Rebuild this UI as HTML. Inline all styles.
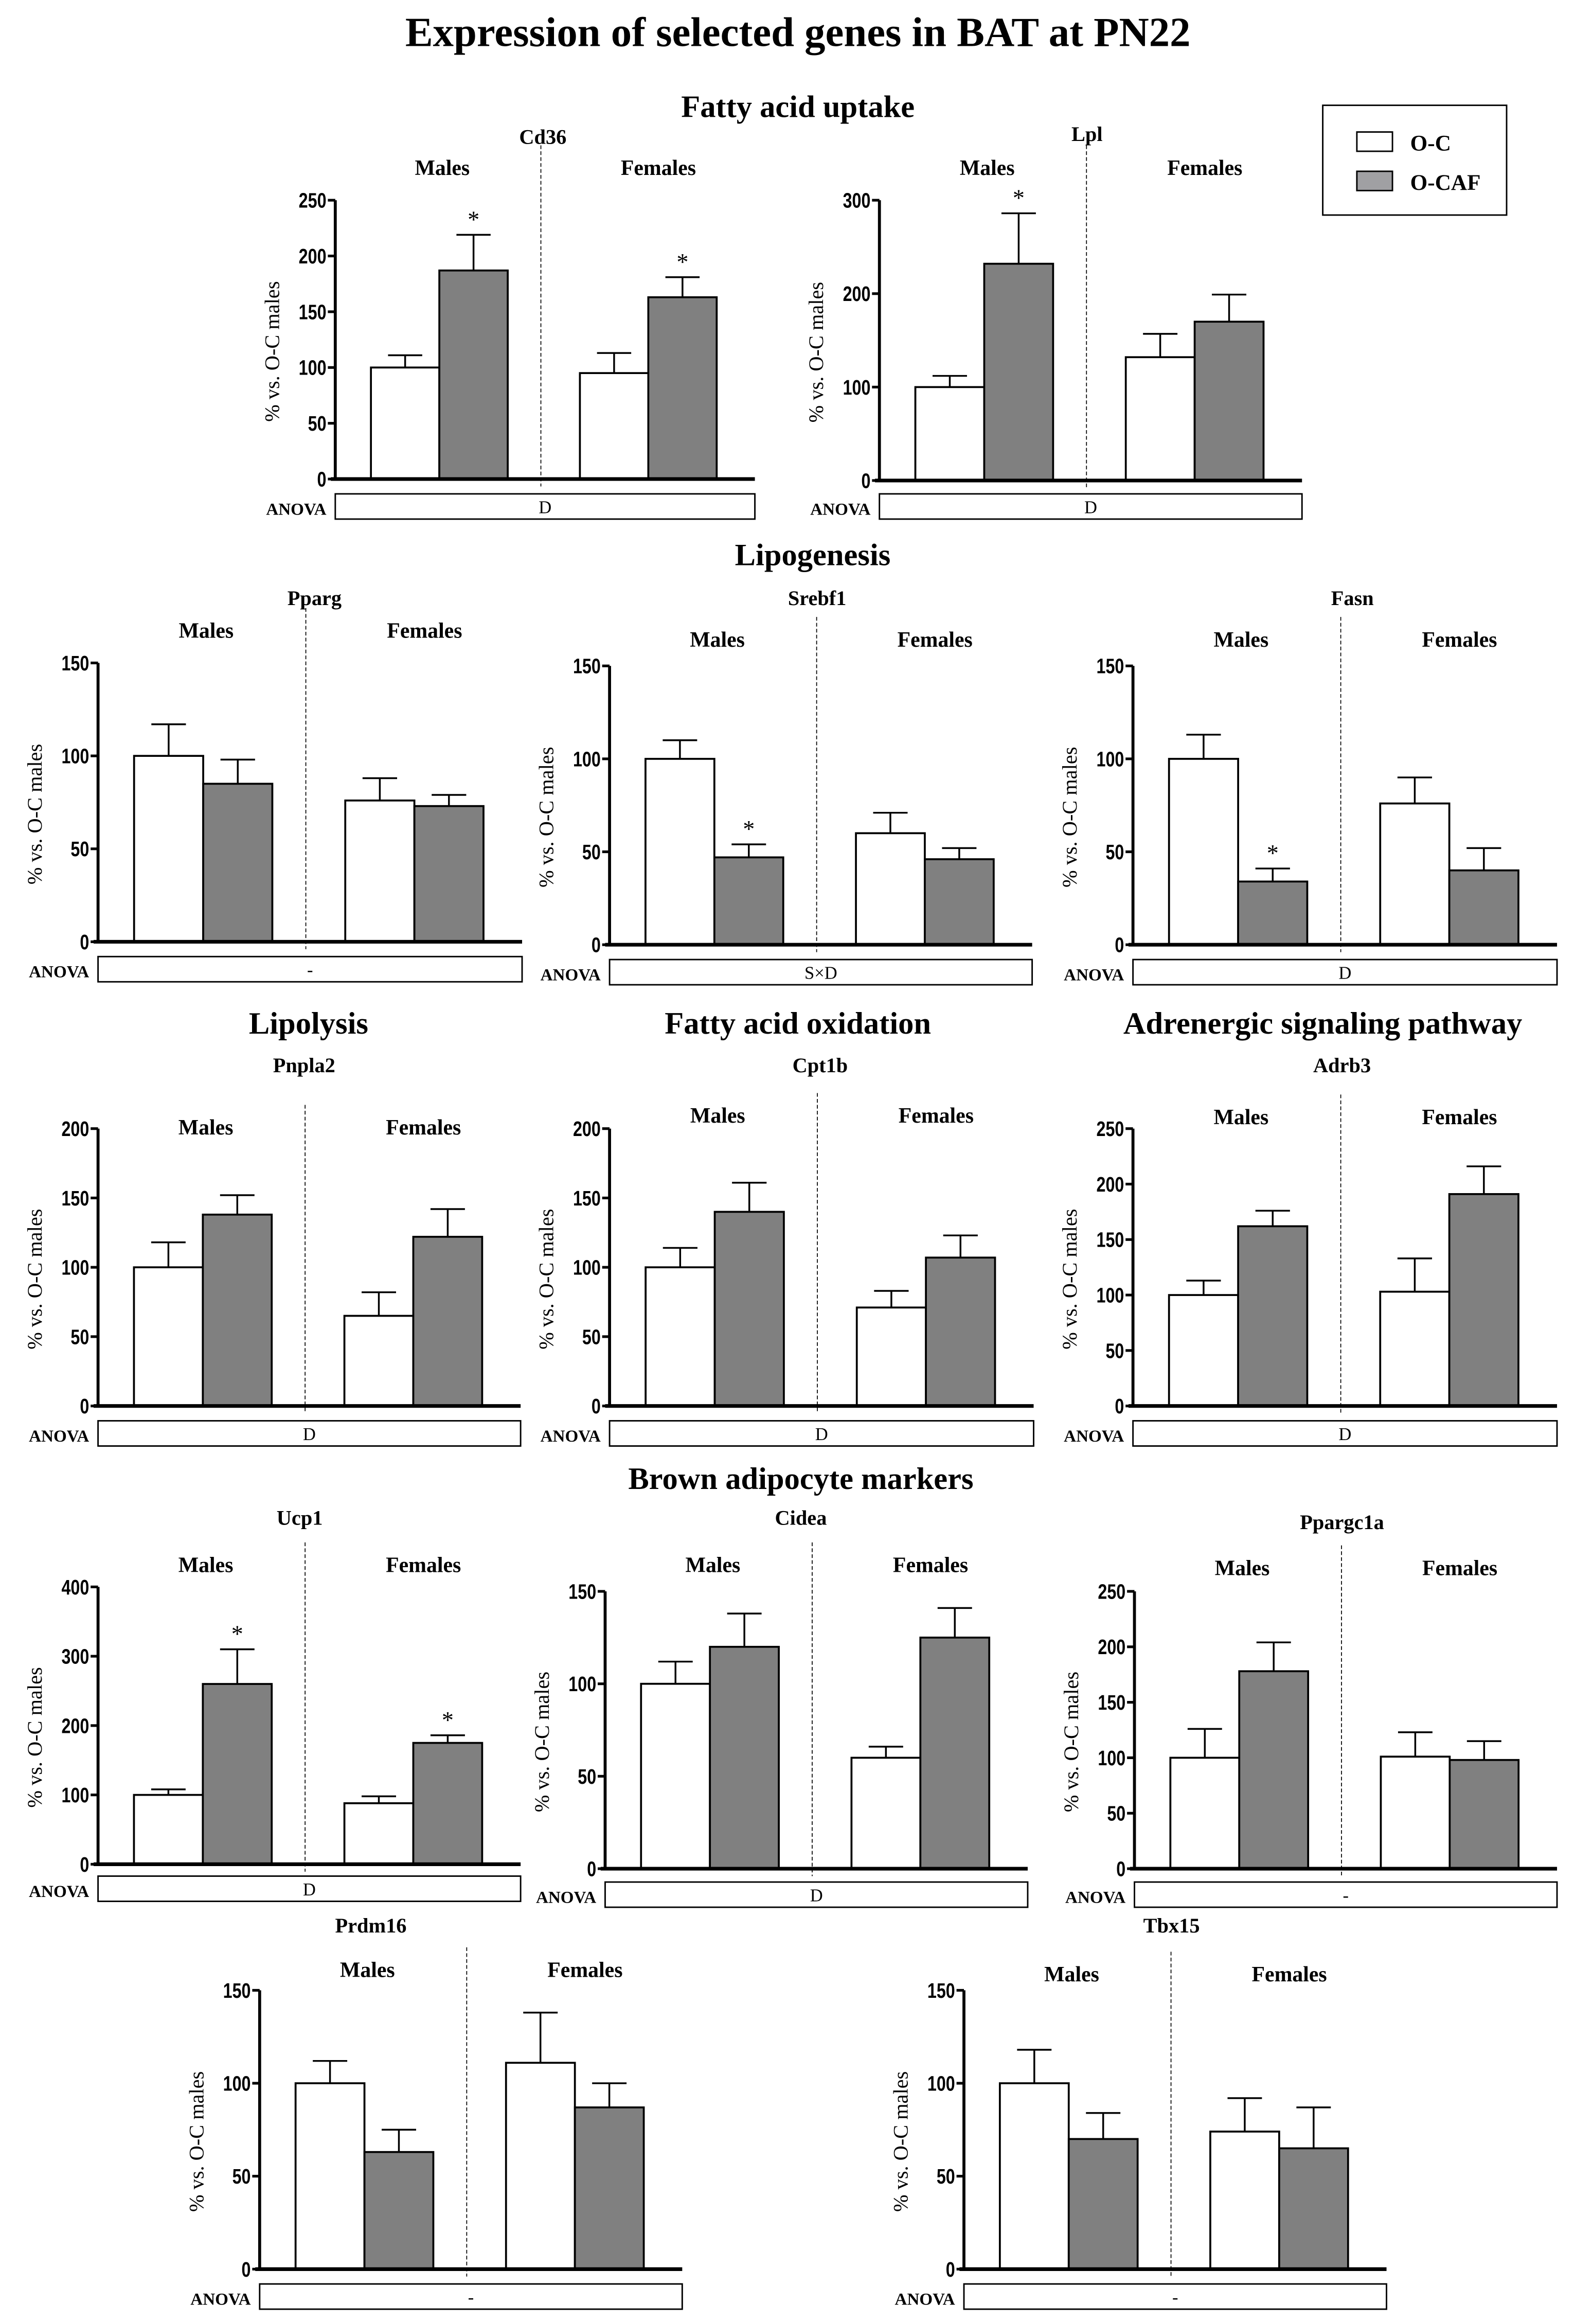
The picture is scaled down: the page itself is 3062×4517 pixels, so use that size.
<!DOCTYPE html>
<html><head><meta charset="utf-8"><title>Expression of selected genes in BAT at PN22</title>
<style>
html,body{margin:0;padding:0;background:#fff;}
svg{display:block;}
.ser{font-family:"Liberation Serif",serif;font-weight:bold;fill:#000;}
.tick{font-family:"Liberation Sans",sans-serif;font-weight:bold;fill:#000;}
.ylab{font-family:"Liberation Serif",serif;fill:#000;}
</style></head>
<body>
<svg id="fig" width="3062" height="4517" viewBox="0 0 1062 1567" xmlns="http://www.w3.org/2000/svg">
<rect x="0" y="0" width="1062" height="1567" fill="#fff"/>
<text class="ser" x="538" y="31" font-size="28" text-anchor="middle">Expression  of selected genes in BAT at PN22</text>
<text class="ser" x="538" y="79" font-size="21" text-anchor="middle">Fatty acid uptake</text>
<text class="ser" x="548" y="381" font-size="21" text-anchor="middle">Lipogenesis</text>
<text class="ser" x="208" y="697" font-size="21" text-anchor="middle">Lipolysis</text>
<text class="ser" x="538" y="697" font-size="21" text-anchor="middle">Fatty acid oxidation</text>
<text class="ser" x="892" y="697" font-size="21" text-anchor="middle">Adrenergic signaling pathway</text>
<text class="ser" x="540" y="1004" font-size="21" text-anchor="middle">Brown adipocyte markers</text>
<g>
<rect x="892" y="71" width="124" height="74" fill="#fff" stroke="#000" stroke-width="1"/>
<rect x="915" y="89" width="24" height="13" fill="#fff" stroke="#000" stroke-width="1"/>
<text class="ser" x="951" y="101.5" font-size="15">O-C</text>
<rect x="915" y="115.5" width="24" height="13" fill="#a0a0a3" stroke="#000" stroke-width="1"/>
<text class="ser" x="951" y="128" font-size="15">O-CAF</text>
</g>
</svg>
<script>
// ---- data ----
const geneNames   = ["Cd36","Lpl","Pparg","Srebf1","Fasn","Pnpla2","Cpt1b","Adrb3","Ucp1","Cidea","Ppargc1a","Prdm16","Tbx15"];
const ocMales     = [100,100,100,100,100,100,100,100,100,100,100,100,100];
const ocMalesErr  = [111,112,117,110,113,118,114,113,108,112,126,112,118];
const ocafMales   = [187,232,85,47,34,138,140,162,260,120,178,63,70];
const ocafMalesErr= [219,286,98,54,41,152,161,176,310,138,204,75,84];
const ocFemales   = [95,132,76,60,76,65,71,103,88,60,101,111,74];
const ocFemalesErr= [113,157,88,71,90,82,83,133,98,66,123,138,92];
const ocafFemales = [163,170,73,46,40,122,107,191,175,125,98,87,65];
const ocafFemalesErr=[181,199,79,52,52,142,123,216,186,141,115,100,87];
const yMax        = [250,300,150,150,150,200,200,250,400,150,250,150,150];
const yStep       = [50,100,50,50,50,50,50,50,100,50,50,50,50];
const starMales   = [true,true,false,true,true,false,false,false,true,false,false,false,false];
const starFemales = [true,false,false,false,false,false,false,false,true,false,false,false,false];
const anovaText   = ["D","D","-","S×D","D","D","D","D","D","D","-","-","-"];

// ---- layout (pixel geometry, not data) ----
// [axisX, axisRight, y0, yTop, titleX, titleY, sexLabelY, anovaTop]
const layout = [
 [226,509,323,135,366,97,118,333],
 [593,878,324,135,733,95,118,333],
 [66,352,635,447,212,408,430,645],
 [411,696,637,449,551,408,436,647],
 [764,1050,637,449,912,408,436,647],
 [66,351,948,761,205,723,765,958],
 [411,697,948,761,553,723,757,958],
 [764,1050,948,761,905,723,758,958],
 [66,351,1257,1070,202,1028,1060,1265],
 [408,693,1260,1073,540,1028,1060,1269],
 [765,1050,1260,1073,905,1031,1062,1269],
 [175,460,1530,1342,250,1303,1333,1540],
 [650,935,1530,1342,790,1303,1336,1540]
];

const NS="http://www.w3.org/2000/svg";
const svg=document.getElementById('fig');
function mk(tag,attrs,parent){const e=document.createElementNS(NS,tag);for(const k in attrs)e.setAttribute(k,attrs[k]);(parent||svg).appendChild(e);return e;}

geneNames.forEach((gene,i)=>{
  const [ax,ar,y0,yt,tx,ty,sy,at]=layout[i];
  const w=ar-ax;
  const yScale=v=>y0-(v/yMax[i])*(y0-yt);
  const g=mk('g',{});
  
  
  const t=mk('text',{class:'ser',x:tx,y:ty,'font-size':14,'text-anchor':'middle'},g);
  t.textContent=gene;
  
  
  const dx=ax+0.49*w;
  const dv=mk('line',{x1:dx,x2:dx,y1:sy-20,y2:y0+5,stroke:'#000','stroke-width':0.6,'stroke-dasharray':'2.5,1.5'},g);
  
  
  const ml=mk('text',{class:'ser',x:ax+0.255*w,y:sy,'font-size':14.5,'text-anchor':'middle'},g);
  ml.textContent='Males';
  
  
  const fl=mk('text',{class:'ser',x:ax+0.77*w,y:sy,'font-size':14.5,'text-anchor':'middle'},g);
  fl.textContent='Females';
  
  
  const bw=0.163*w;
  const vals=[ocMales[i],ocafMales[i],ocFemales[i],ocafFemales[i]];
  const errs=[ocMalesErr[i],ocafMalesErr[i],ocFemalesErr[i],ocafFemalesErr[i]];
  const stars=[false,starMales[i],false,starFemales[i]];
  const starts=[ax+0.085*w,ax+0.085*w+bw,ax+0.583*w,ax+0.583*w+bw];
  const names=['bar-oc-males','bar-ocaf-males','bar-oc-females','bar-ocaf-females'];
  vals.forEach((v,j)=>{
    const bx=starts[j], by=yScale(v), ey=yScale(errs[j]), cx=bx+bw/2;
    const el=mk('line',{x1:cx,x2:cx,y1:by,y2:ey,stroke:'#000','stroke-width':1.2},g);
    
    
    const cap=mk('line',{x1:cx-bw/4,x2:cx+bw/4,y1:ey,y2:ey,stroke:'#000','stroke-width':1.2},g);
    
    
    const r=mk('rect',{x:bx,y:by,width:bw,height:y0-by,fill:(j%2?'#808080':'#fff'),stroke:'#000','stroke-width':1.3},g);
    
    
    if(stars[j]){
      const s=mk('text',{class:'ylab',x:cx,y:ey-5,'font-size':16,'text-anchor':'middle'},g);
      s.textContent='*';
      
      
    }
  });
  const yl=mk('line',{x1:ax,x2:ax,y1:yt,y2:y0,stroke:'#000','stroke-width':2},g);
  
  
  const xl=mk('line',{x1:ax-3,x2:ar,y1:y0,y2:y0,stroke:'#000','stroke-width':2.5},g);
  
  
  for(let v=0;v<=yMax[i];v+=yStep[i]){
    const yy=yScale(v);
    const tk=mk('line',{x1:ax-5,x2:ax,y1:yy,y2:yy,stroke:'#000','stroke-width':1.8},g);
    
    
    const tl=mk('text',{class:'tick',x:0,y:0,'font-size':14,'text-anchor':'end',transform:`translate(${ax-6},${yy+5}) scale(0.8,1)`},g);
    tl.textContent=String(v);
    
    
  }
  const ylab=mk('text',{class:'ylab',x:0,y:0,'font-size':14,'text-anchor':'middle',transform:`translate(${ax-38},${(y0+yt)/2+8}) rotate(-90)`},g);
  ylab.textContent='% vs. O-C males';
  
  
  const ab=mk('rect',{x:ax,y:at,width:w,height:17,fill:'#fff',stroke:'#000','stroke-width':1},g);
  
  
  const atx=mk('text',{class:'ylab',x:ax+w/2,y:at+13,'font-size':12,'text-anchor':'middle'},g);
  atx.textContent=anovaText[i];
  
  
  const al=mk('text',{class:'ser',x:ax-6,y:at+14,'font-size':11.5,'text-anchor':'end'},g);
  al.textContent='ANOVA';
  
  
});
</script>
</body></html>
